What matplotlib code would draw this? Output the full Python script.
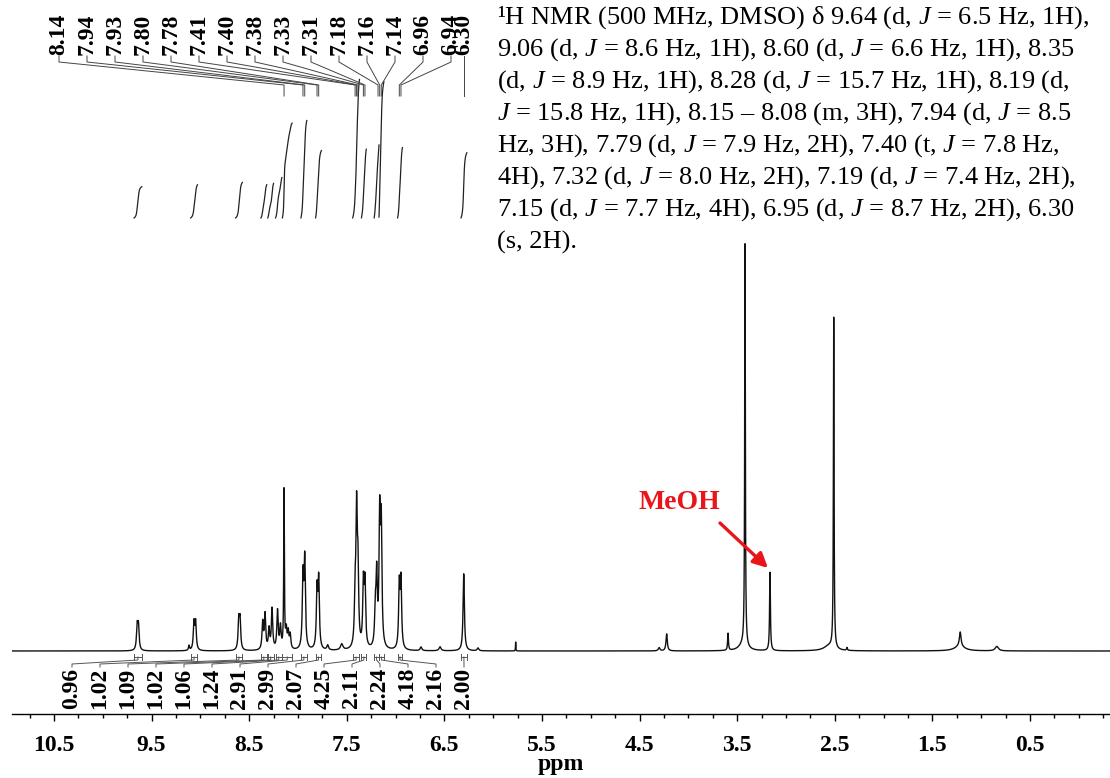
import numpy as np
import matplotlib.pyplot as plt
from matplotlib import transforms

plt.rcParams['font.family'] = ['Liberation Serif', 'DejaVu Serif']
plt.rcParams['mathtext.fontset'] = 'custom'
plt.rcParams['mathtext.rm'] = 'Liberation Serif'
plt.rcParams['mathtext.it'] = 'Liberation Serif:italic'
plt.rcParams['mathtext.bf'] = 'Liberation Serif:bold'

W, H = 1110, 778

# resonance lines: position (ppm), height (water line = 100), half width (ppm)
line_ppm = [9.648, 9.635, 9.117, 9.066, 9.049, 8.607, 8.594,
            8.362, 8.338, 8.297, 8.266, 8.210, 8.180, 8.143, 8.120, 8.100, 8.080,
            7.949, 7.931, 7.805, 7.788, 7.696, 7.552,
            7.415, 7.400, 7.386, 7.330, 7.314,
            7.208, 7.194, 7.163, 7.147, 6.962, 6.945,
            6.740, 6.545, 6.302, 6.156, 5.770, 4.300, 4.223, 3.594,
            3.440, 3.420, 3.164, 2.560, 2.511, 2.375, 1.215, 1.220, 0.840]
line_height = [5.8, 5.8, 1.2, 6.7, 6.7, 7.1, 7.1,
               6.7, 8.6, 5.0, 10.0, 9.5, 5.5, 39.0, 4.5, 4.0, 3.5,
               17.4, 21.5, 14.2, 16.6, 1.2, 1.5,
               11.4, 32.0, 18.0, 15.4, 15.4,
               8.6, 17.0, 31.0, 29.0, 15.5, 16.4,
               0.9, 1.0, 19.0, 0.7, 2.2, 0.8, 4.2, 4.2,
               1.5, 99.0, 19.3, 1.2, 81.5, 0.7, 3.5, 1.2, 1.1]
line_hwhm = [0.008, 0.008, 0.006, 0.008, 0.008, 0.008, 0.008,
             0.008, 0.008, 0.008, 0.008, 0.008, 0.008, 0.004, 0.008, 0.008, 0.008,
             0.008, 0.008, 0.008, 0.008, 0.010, 0.015,
             0.008, 0.008, 0.008, 0.008, 0.008,
             0.008, 0.008, 0.008, 0.008, 0.008, 0.008,
             0.010, 0.012, 0.008, 0.010, 0.002, 0.010, 0.008, 0.005,
             0.050, 0.004, 0.005, 0.060, 0.004, 0.005, 0.010, 0.060, 0.020]

# picked peaks
peak_labels = ['8.14', '7.94', '7.93', '7.80', '7.78', '7.41', '7.40', '7.38',
               '7.33', '7.31', '7.18', '7.16', '7.14', '6.96', '6.94', '6.30']
peak_pos = [8.143, 7.949, 7.931, 7.805, 7.788, 7.415, 7.400, 7.386,
            7.330, 7.314, 7.180, 7.163, 7.147, 6.962, 6.945, 6.302]

# integration regions
int_values = [0.96, 1.02, 1.09, 1.02, 1.06, 1.24, 2.91, 2.99, 2.07,
              4.25, 2.11, 2.24, 4.18, 2.16, 2.00]
int_start = [9.68, 9.10, 8.64, 8.38, 8.31, 8.23, 8.16, 7.97, 7.82,
             7.44, 7.35, 7.22, 7.17, 6.98, 6.33]
int_end = [9.60, 9.03, 8.57, 8.32, 8.25, 8.165, 8.06, 7.91, 7.76,
           7.37, 7.30, 7.17, 7.12, 6.93, 6.27]

x_ticks = [10.5, 9.5, 8.5, 7.5, 6.5, 5.5, 4.5, 3.5, 2.5, 1.5, 0.5]

assignment = [
    "¹H NMR (500 MHz, DMSO) δ 9.64 (d, $J$ = 6.5 Hz, 1H),",
    "9.06 (d, $J$ = 8.6 Hz, 1H), 8.60 (d, $J$ = 6.6 Hz, 1H), 8.35",
    "(d, $J$ = 8.9 Hz, 1H), 8.28 (d, $J$ = 15.7 Hz, 1H), 8.19 (d,",
    "$J$ = 15.8 Hz, 1H), 8.15 – 8.08 (m, 3H), 7.94 (d, $J$ = 8.5",
    "Hz, 3H), 7.79 (d, $J$ = 7.9 Hz, 2H), 7.40 (t, $J$ = 7.8 Hz,",
    "4H), 7.32 (d, $J$ = 8.0 Hz, 2H), 7.19 (d, $J$ = 7.4 Hz, 2H),",
    "7.15 (d, $J$ = 7.7 Hz, 4H), 6.95 (d, $J$ = 8.7 Hz, 2H), 6.30",
    "(s, 2H).",
]

# page geometry (pixels from the top-left corner)
PX_PER_PPM = 97.6
X0_PX, X0_PPM = 54, 10.5
AXIS_Y, BASE_Y = 714, 651
PX_PER_UNIT = 4.06
INT_BASE_Y, PX_PER_H = 218, 32.6
RED = '#e8161b'


def px_to_ppm(x):
    return X0_PPM - (x - X0_PX) / PX_PER_PPM


def fy(y):
    return 1 - y / H


fig = plt.figure(figsize=(W / 100, H / 100), dpi=100)
ax = fig.add_axes([12 / W, fy(AXIS_Y), (W - 12) / W, AXIS_Y / H])
ax.set_xlim(px_to_ppm(12), px_to_ppm(W))
ax.set_ylim(-(AXIS_Y - BASE_Y) / PX_PER_UNIT, BASE_Y / PX_PER_UNIT)
tr = transforms.blended_transform_factory(ax.transData, fig.transFigure)

# spectrum as a sum of Lorentzian lines
ppm = np.linspace(11.2, -0.6, 36000)
spec = np.zeros_like(ppm)
for p, h, g in zip(line_ppm, line_height, line_hwhm):
    spec += h * g ** 2 / ((ppm - p) ** 2 + g ** 2)
ax.plot(ppm, spec, color='#111111', lw=1.0, clip_on=True)

# integral curves, brackets and values
lab_w = 28 / PX_PER_PPM
for i, (v, s, e) in enumerate(zip(int_values, int_start, int_end)):
    m = (ppm <= s) & (ppm >= e)
    cum = np.cumsum(spec[m])
    cum = cum / cum[-1]
    ax.plot(ppm[m], fy(INT_BASE_Y - cum * v * PX_PER_H), color='#222222',
            lw=0.9, transform=tr)
    c = (s + e) / 2
    lx = px_to_ppm(72) - i * lab_w
    ax.plot([s, e], [fy(657), fy(657)], color='#555555', lw=0.7, transform=tr)
    for xe in (s, e):
        ax.plot([xe, xe], [fy(654), fy(660)], color='#555555', lw=0.7, transform=tr)
    ax.plot([c, c, lx, lx], [fy(657), fy(660), fy(664), fy(667)],
            color='#555555', lw=0.7, transform=tr)
    ax.text(lx, fy(668), f'{v:.2f}', rotation=90, ha='center', va='top',
            fontsize=17, fontweight='bold', transform=tr)

# peak picking labels
for i, (lab, p) in enumerate(zip(peak_labels, peak_pos)):
    if i < len(peak_labels) - 1:
        lx = px_to_ppm(59) - i * lab_w
        ax.plot([lx, lx, p, p], [fy(56), fy(62), fy(85), fy(96)],
                color='#444444', lw=0.7, transform=tr)
    else:
        lx = p
        ax.plot([p, p], [fy(56), fy(96)], color='#444444', lw=0.7, transform=tr)
    ax.text(lx, fy(55), lab, rotation=90, ha='center', va='bottom',
            fontsize=17, fontweight='bold', transform=tr)

# solvent annotation
ax.text(px_to_ppm(679), fy(502), 'MeOH', color=RED, fontsize=20,
        fontweight='bold', ha='center', va='center', transform=tr)
ax.annotate('', xy=(px_to_ppm(768), fy(568)), xycoords=tr,
            xytext=(px_to_ppm(720), fy(523)), textcoords=tr,
            arrowprops=dict(arrowstyle='-|>', color=RED, lw=2.4,
                            mutation_scale=22, shrinkA=0, shrinkB=0))

# peak list text
for i, t in enumerate(assignment):
    fig.text(497 / W, fy(18 + i * 32), t, fontsize=19, ha='left', va='center')

# axis
for side in ('left', 'right', 'top'):
    ax.spines[side].set_visible(False)
ax.spines['bottom'].set_linewidth(1.0)
ax.set_yticks([])
ax.set_xticks(x_ticks)
ax.set_xticklabels([f'{t:.1f}' for t in x_ticks], fontsize=17, fontweight='bold')
ax.set_xticks(np.arange(-0.25, 11.0, 0.25), minor=True)
ax.tick_params(axis='x', which='major', length=5, width=1, pad=10)
ax.tick_params(axis='x', which='minor', length=3, width=1)
ax.set_xlabel('ppm', fontsize=17, fontweight='bold', labelpad=-1)

fig.savefig('out.png', dpi=100)
